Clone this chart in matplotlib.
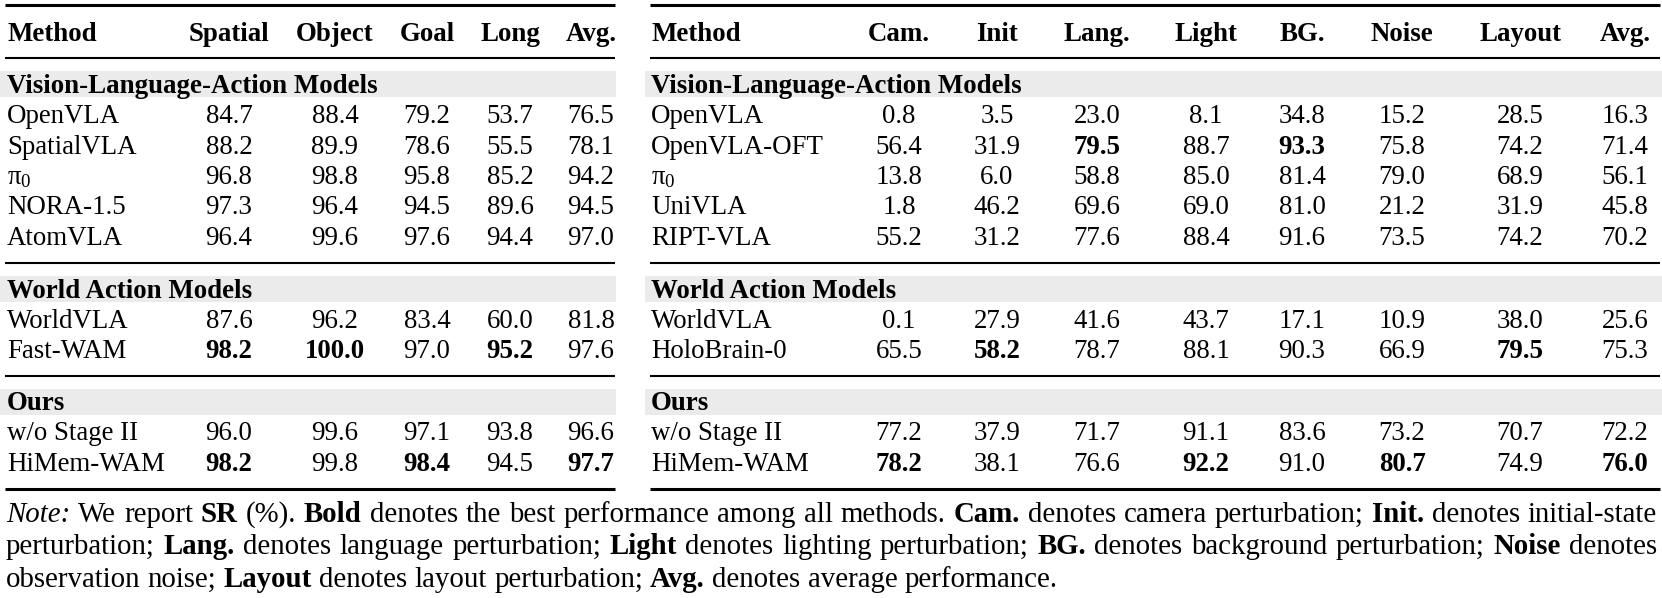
import numpy as np
import matplotlib
matplotlib.use("Agg")
import matplotlib.pyplot as plt

plt.rcParams['font.family'] = ['Liberation Serif', 'DejaVu Serif']
plt.rcParams['mathtext.fontset'] = 'custom'
plt.rcParams['mathtext.rm'] = 'Liberation Serif'
plt.rcParams['mathtext.it'] = 'Liberation Serif:italic'
plt.rcParams['mathtext.bf'] = 'Liberation Serif:bold'

## left table: LIBERO suites
left_cols = ["Spatial", "Object", "Goal", "Long", "Avg."]
left_groups = ["Vision-Language-Action Models", "World Action Models", "Ours"]
left_methods = [
    ["OpenVLA", "SpatialVLA", "π$_0$", "NORA-1.5", "AtomVLA"],
    ["WorldVLA", "Fast-WAM"],
    ["w/o Stage II", "HiMem-WAM"],
]
left_vals = np.array([
    [84.7, 88.4, 79.2, 53.7, 76.5],
    [88.2, 89.9, 78.6, 55.5, 78.1],
    [96.8, 98.8, 95.8, 85.2, 94.2],
    [97.3, 96.4, 94.5, 89.6, 94.5],
    [96.4, 99.6, 97.6, 94.4, 97.0],
    [87.6, 96.2, 83.4, 60.0, 81.8],
    [98.2, 100.0, 97.0, 95.2, 97.6],
    [96.0, 99.6, 97.1, 93.8, 96.6],
    [98.2, 99.8, 98.4, 94.5, 97.7],
])

## right table: perturbations
right_cols = ["Cam.", "Init", "Lang.", "Light", "BG.", "Noise", "Layout", "Avg."]
right_groups = ["Vision-Language-Action Models", "World Action Models", "Ours"]
right_methods = [
    ["OpenVLA", "OpenVLA-OFT", "π$_0$", "UniVLA", "RIPT-VLA"],
    ["WorldVLA", "HoloBrain-0"],
    ["w/o Stage II", "HiMem-WAM"],
]
right_vals = np.array([
    [0.8, 3.5, 23.0, 8.1, 34.8, 15.2, 28.5, 16.3],
    [56.4, 31.9, 79.5, 88.7, 93.3, 75.8, 74.2, 71.4],
    [13.8, 6.0, 58.8, 85.0, 81.4, 79.0, 68.9, 56.1],
    [1.8, 46.2, 69.6, 69.0, 81.0, 21.2, 31.9, 45.8],
    [55.2, 31.2, 77.6, 88.4, 91.6, 73.5, 74.2, 70.2],
    [0.1, 27.9, 41.6, 43.7, 17.1, 10.9, 38.0, 25.6],
    [65.5, 58.2, 78.7, 88.1, 90.3, 66.9, 79.5, 75.3],
    [77.2, 37.9, 71.7, 91.1, 83.6, 73.2, 70.7, 72.2],
    [78.2, 38.1, 76.6, 92.2, 91.0, 80.7, 74.9, 76.0],
])

note_lines = [
    [("Note:", "italic"), ("We", ""), ("report", ""), ("SR", "bold"), ("(%).", ""),
     ("Bold", "bold"), ("denotes", ""), ("the", ""), ("best", ""), ("performance", ""),
     ("among", ""), ("all", ""), ("methods.", ""), ("Cam.", "bold"), ("denotes", ""),
     ("camera", ""), ("perturbation;", ""), ("Init.", "bold"), ("denotes", ""),
     ("initial-state", "")],
    [("perturbation;", ""), ("Lang.", "bold"), ("denotes", ""), ("language", ""),
     ("perturbation;", ""), ("Light", "bold"), ("denotes", ""), ("lighting", ""),
     ("perturbation;", ""), ("BG.", "bold"), ("denotes", ""), ("background", ""),
     ("perturbation;", ""), ("Noise", "bold"), ("denotes", "")],
    [("observation", ""), ("noise;", ""), ("Layout", "bold"), ("denotes", ""),
     ("layout", ""), ("perturbation;", ""), ("Avg.", "bold"), ("denotes", ""),
     ("average", ""), ("performance.", "")],
]

W, H = 1662, 598
FS = 19.4      # table text
FS_NOTE = 20.8  # note text
GRAY = "#ebebeb"

fig = plt.figure(figsize=(W / 100, H / 100), dpi=100)
ax = fig.add_axes([0, 0, 1, 1])
ax.set_xlim(0, W)
ax.set_ylim(H, 0)
ax.axis("off")

# vertical layout (pixels from top)
y_top, y_head, y_headrule = 5, 32, 58
pitch = 30.5
band_h = 26


def txt(x, y, s, ha="center", bold=False):
    # y is the visual middle of the row, baseline sits a bit lower
    return ax.text(x, y + 9, s, ha=ha, va="baseline", fontsize=FS,
                   fontweight="bold" if bold else "normal")


def draw_table(x0, x1, band_x0, band_x1, mx, col_x, cols, groups, methods, vals):
    best = vals.max(axis=0)
    ax.plot([x0, x1], [y_top, y_top], color="black", lw=2.2, solid_capstyle="butt")
    txt(mx, y_head, "Method", ha="left", bold=True)
    for cx, c in zip(col_x, cols):
        txt(cx, y_head, c, bold=True)
    ax.plot([x0, x1], [y_headrule, y_headrule], color="black", lw=1.5, solid_capstyle="butt")

    y = y_headrule + 13
    r = 0
    for gi, (g, ms) in enumerate(zip(groups, methods)):
        ax.fill_between([band_x0, band_x1], y, y + band_h, color=GRAY, lw=0)
        txt(mx, y + band_h / 2, g, ha="left", bold=True)
        yr = y + band_h + 17
        for m in ms:
            txt(mx, yr, m, ha="left")
            for cx, v, b in zip(col_x, vals[r], best):
                txt(cx, yr, f"{v:.1f}", bold=(v == b))
            r += 1
            yr += pitch
        yrule = yr - pitch + 27
        lw = 2.2 if gi == len(groups) - 1 else 1.5
        ax.plot([x0, x1], [yrule, yrule], color="black", lw=lw, solid_capstyle="butt")
        y = yrule + 12.5
    return yrule


draw_table(5, 615, 0, 616, 7, [229, 335, 427, 510, 591],
           left_cols, left_groups, left_methods, left_vals)
y_bot = draw_table(650, 1660, 645, 1662, 651,
                   [899, 997, 1097, 1206, 1302, 1402, 1520, 1625],
                   right_cols, right_groups, right_methods, right_vals)

# justified note below the tables
fig.canvas.draw()
renderer = fig.canvas.get_renderer()
nx0, nx1 = 6, 1657
space = FS_NOTE * 100 / 72 * 0.25
ny = y_bot + 23.5
for li, words in enumerate(note_lines):
    objs = []
    for w, st in words:
        t = ax.text(0, ny + 9, w, ha="left", va="baseline", fontsize=FS_NOTE,
                    fontweight="bold" if st == "bold" else "normal",
                    fontstyle="italic" if st == "italic" else "normal")
        objs.append(t)
    widths = [t.get_window_extent(renderer).width for t in objs]
    if li < len(note_lines) - 1:
        gap = max((nx1 - nx0 - sum(widths)) / (len(objs) - 1), 0.6 * space)
    else:
        gap = space
    x = nx0
    for t, wd in zip(objs, widths):
        t.set_x(x)
        x += wd + gap
    ny += 32.8

fig.savefig("out.png", dpi=100)
